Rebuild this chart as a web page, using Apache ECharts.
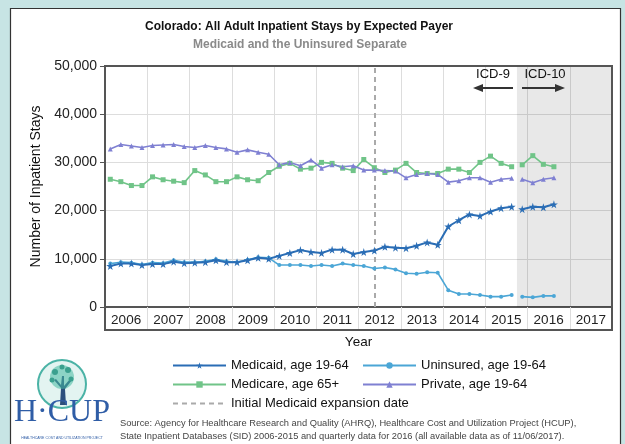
<!DOCTYPE html>
<html><head><meta charset="utf-8">
<script src="https://cdn.jsdelivr.net/npm/echarts@6/dist/echarts.min.js"></script>
<style>html,body{margin:0;padding:0;background:#fff}#c{width:625px;height:444px}</style>
</head><body><div id="c"></div>
<script>
const years = ['2006','2007','2008','2009','2010','2011','2012','2013','2014','2015','2016','2017'];
const quartersICD9 = ['2006Q1','2006Q2','2006Q3','2006Q4','2007Q1','2007Q2','2007Q3','2007Q4',
  '2008Q1','2008Q2','2008Q3','2008Q4','2009Q1','2009Q2','2009Q3','2009Q4',
  '2010Q1','2010Q2','2010Q3','2010Q4','2011Q1','2011Q2','2011Q3','2011Q4',
  '2012Q1','2012Q2','2012Q3','2012Q4','2013Q1','2013Q2','2013Q3','2013Q4',
  '2014Q1','2014Q2','2014Q3','2014Q4','2015Q1','2015Q2','2015Q3'];
const quartersICD10 = ['2015Q4','2016Q1','2016Q2','2016Q3'];
const medicaidICD9 = [8500,9000,9000,8700, 8900,8900,9400,9100, 9200,9300,9700,9300, 9300,9700,10200,10000,
  10600,11200,11800,11400, 11200,11900,11900,11000, 11400,11700,12500,12300, 12200,12700,13400,12900,
  16700,18000,19200,18900, 19800,20500,20800];
const medicaidICD10 = [20300,20800,20700,21300];
const uninsuredICD9 = [9000,9300,9200,8800, 9200,9100,9700,9300, 9300,9500,9900,9500, 9300,9800,10300,10200,
  8700,8700,8700,8500, 8700,8500,9000,8700, 8500,8000,8200,7800, 7000,6900,7200,7100,
  3500,2700,2700,2500, 2150,2150,2500];
const uninsuredICD10 = [2150,2000,2300,2300];
const medicareICD9 = [26500,26000,25200,25200, 27000,26400,26100,25800, 28300,27400,26000,26000, 27000,26400,26200,27900,
  29200,29800,28600,28800, 30000,29800,28800,28300, 30600,28900,27900,28400, 29800,27900,27700,27700,
  28600,28600,27900,30000, 31300,29800,29100];
const medicareICD10 = [29500,31400,29600,29100];
const privateICD9 = [32800,33700,33400,33100, 33500,33600,33700,33300, 33100,33500,33100,32800, 32100,32600,32100,31700,
  29500,30000,29300,30500, 28800,29500,29100,29300, 28400,28400,28300,28200, 26800,27500,27700,27500,
  25900,26200,26800,26800, 25900,26500,26700];
const privateICD10 = [26500,25800,26500,26800];
const expansionDate = '2012Q2';
const icd10Start = 2015.75;
const axisEnd = 2018;

function qPos(q){ return +q.slice(0,4) + (+q.slice(5) - 0.5)/4; }
function pts(qs, vals){ return qs.map((q,i)=>[qPos(q), vals[i]]); }

const FONT = 'Liberation Sans, Arial, sans-serif';
const C = {medicaid:'#2a6db5', uninsured:'#4ba6d6', medicare:'#70c488', private:'#7f80d2'};
const STAR = 'path://M50,0 L61,35 L98,35 L68,57 L79,91 L50,70 L21,91 L32,57 L2,35 L39,35 Z';

function mk(name, color, data, symbol, size, width){
  return {name, type:'line', xAxisIndex:0, data, symbol, symbolSize:size, showSymbol:true,
    lineStyle:{color, width}, itemStyle:{color}, z:5, animation:false};
}

const series = [
  mk('Medicare, age 65+', C.medicare, pts(quartersICD9, medicareICD9), 'rect', 5, 1.6),
  mk('Medicare, age 65+', C.medicare, pts(quartersICD10, medicareICD10), 'rect', 5, 1.6),
  mk('Private, age 19-64', C.private, pts(quartersICD9, privateICD9), 'triangle', 5, 1.6),
  mk('Private, age 19-64', C.private, pts(quartersICD10, privateICD10), 'triangle', 5, 1.6),
  mk('Uninsured, age 19-64', C.uninsured, pts(quartersICD9, uninsuredICD9), 'circle', 4, 1.6),
  mk('Uninsured, age 19-64', C.uninsured, pts(quartersICD10, uninsuredICD10), 'circle', 4, 1.6),
  mk('Medicaid, age 19-64', C.medicaid, pts(quartersICD9, medicaidICD9), STAR, 8, 2),
  mk('Medicaid, age 19-64', C.medicaid, pts(quartersICD10, medicaidICD10), STAR, 8, 2),
  {name:'Initial Medicaid expansion date', type:'line', xAxisIndex:0, data:[], symbol:'none',
   lineStyle:{color:'#aaaaaa', width:2, type:[5,4]}, itemStyle:{color:'#aaaaaa'}, animation:false, z:3,
   markLine:{silent:true, symbol:'none', label:{show:false},
     lineStyle:{color:'#aaaaaa', width:2, type:[5,4]},
     data:[{xAxis: qPos(expansionDate)}]},
   markArea:{silent:true, itemStyle:{color:'rgba(0,0,0,0.09)'},
     data:[[{xAxis: icd10Start},{xAxis: axisEnd}]]}
  }
];

function leg(item, left, top){
  return {data:[item], left, top, padding:0, itemWidth:53, itemHeight:8, itemGap:5,
    textStyle:{fontFamily:FONT, fontSize:13, color:'#111'}, selectedMode:false};
}

const teal = '#c7e4e4';
const option = {
  backgroundColor:'#ffffff',
  animation:false,
  textStyle:{fontFamily:FONT},
  grid:{left:105, right:13, top:66, bottom:137, containLabel:false},
  xAxis:[
    {type:'value', min:2006, max:axisEnd, interval:1, show:true,
     axisLine:{show:false}, axisTick:{show:false}, axisLabel:{show:false},
     splitLine:{show:true, lineStyle:{color:'#dddddd', width:1}}},
    {type:'category', data:years, boundaryGap:true, position:'bottom',
     axisLine:{show:true, lineStyle:{color:'#555', width:2}},
     axisTick:{show:true, interval:0, length:23, lineStyle:{color:'#dddddd'}},
     axisLabel:{show:true, interval:0, margin:6, fontSize:13.5, color:'#222', fontFamily:FONT},
     splitLine:{show:false},
     name:'Year', nameLocation:'middle', nameGap:28,
     nameTextStyle:{fontSize:13.5, color:'#111', fontFamily:FONT}}
  ],
  yAxis:{type:'value', min:0, max:50000, interval:10000,
    axisLine:{show:true, lineStyle:{color:'#555', width:2}},
    axisTick:{show:true, length:5, lineStyle:{color:'#555'}},
    axisLabel:{fontSize:14, color:'#222', margin:8, fontFamily:FONT,
      formatter:v=>v.toLocaleString('en-US')},
    splitLine:{show:true, lineStyle:{color:'#dddddd'}},
    name:'Number of Inpatient Stays', nameLocation:'middle', nameRotate:90, nameGap:62,
    nameTextStyle:{fontSize:14, color:'#111', fontFamily:FONT}},
  legend:[
    leg('Medicaid, age 19-64', 172, 359),
    leg('Uninsured, age 19-64', 362, 359),
    leg('Medicare, age 65+', 172, 378),
    leg('Private, age 19-64', 362, 378),
    leg({name:'Initial Medicaid expansion date', itemStyle:{color:'rgba(0,0,0,0)', borderColor:'rgba(0,0,0,0)', borderWidth:0}}, 172, 397)
  ],
  series,
  graphic:[
    {type:'rect', shape:{x:0,y:0,width:625,height:8}, style:{fill:teal}, silent:true},
    {type:'rect', shape:{x:0,y:0,width:10,height:444}, style:{fill:teal}, silent:true},
    {type:'rect', shape:{x:621,y:0,width:4,height:444}, style:{fill:teal}, silent:true},
    {type:'polyline', shape:{points:[[10.5,444],[10.5,8.5],[620.5,8.5],[620.5,444]]}, style:{stroke:'#333', lineWidth:1.2, fill:null}, silent:true},
    {type:'rect', shape:{x:105,y:66,width:507,height:264}, style:{stroke:'#555', lineWidth:2, fill:null}, z:50, silent:true},
    {type:'text', x:299, y:27, style:{text:'Colorado: All Adult Inpatient Stays by Expected Payer', font:'bold 12px '+FONT, fill:'#111', textAlign:'center', textVerticalAlign:'middle'}},
    {type:'text', x:300, y:45, style:{text:'Medicaid and the Uninsured Separate', font:'bold 12px '+FONT, fill:'#8a8a8a', textAlign:'center', textVerticalAlign:'middle'}},
    {type:'text', x:493, y:74, z:60, style:{text:'ICD-9', font:'13px '+FONT, fill:'#111', textAlign:'center', textVerticalAlign:'middle'}},
    {type:'text', x:545, y:74, z:60, style:{text:'ICD-10', font:'13px '+FONT, fill:'#111', textAlign:'center', textVerticalAlign:'middle'}},
    {type:'line', z:60, shape:{x1:513,y1:88,x2:480,y2:88}, style:{stroke:'#333', lineWidth:2}},
    {type:'polygon', z:60, shape:{points:[[473,88],[483,84],[483,92]]}, style:{fill:'#333'}},
    {type:'line', z:60, shape:{x1:522,y1:88,x2:557,y2:88}, style:{stroke:'#333', lineWidth:2}},
    {type:'polygon', z:60, shape:{points:[[565,88],[555,84],[555,92]]}, style:{fill:'#333'}},
    {type:'circle', shape:{cx:62,cy:384,r:24}, style:{fill:'#e3f4f1', stroke:'#4bb3a6', lineWidth:2}},
    {type:'polygon', shape:{points:[[60,405],[61,388],[54,380],[56,379],[61,385],[62,376],[64,376],[64,386],[70,379],[72,380],[65,389],[66,405]]}, style:{fill:'#2c4f7c'}},
    {type:'circle', shape:{cx:62,cy:377,r:12}, style:{fill:'rgba(70,185,160,0.55)'}},
    {type:'circle', shape:{cx:55,cy:372,r:3}, style:{fill:'#3aa08e'}},
    {type:'circle', shape:{cx:68,cy:370,r:3}, style:{fill:'#3aa08e'}},
    {type:'circle', shape:{cx:62,cy:367,r:2.5}, style:{fill:'#3aa08e'}},
    {type:'circle', shape:{cx:71,cy:379,r:2.5}, style:{fill:'#3aa08e'}},
    {type:'circle', shape:{cx:52,cy:380,r:2.5}, style:{fill:'#3aa08e'}},
    {type:'text', x:62, y:413, style:{text:'H\u00b7CUP', font:'32px "Liberation Serif", "DejaVu Serif", serif', fill:'#2f5da6', textAlign:'center', textVerticalAlign:'middle'}},
    {type:'text', x:62, y:438, style:{text:'HEALTHCARE COST AND UTILIZATION PROJECT', font:'3.5px '+FONT, fill:'#2f5da6', textAlign:'center', textVerticalAlign:'middle'}},
    {type:'text', x:120, y:423, style:{text:'Source: Agency for Healthcare Research and Quality (AHRQ), Healthcare Cost and Utilization Project (HCUP),', font:'9.3px '+FONT, fill:'#444', textVerticalAlign:'middle'}},
    {type:'text', x:120, y:436, style:{text:'State Inpatient Databases (SID) 2006-2015 and quarterly data for 2016 (all available data as of 11/06/2017).', font:'9.3px '+FONT, fill:'#444', textVerticalAlign:'middle'}}
  ]
};
const chart = echarts.init(document.getElementById('c'), null, {renderer:'canvas'});
chart.setOption(option);
</script></body></html>
